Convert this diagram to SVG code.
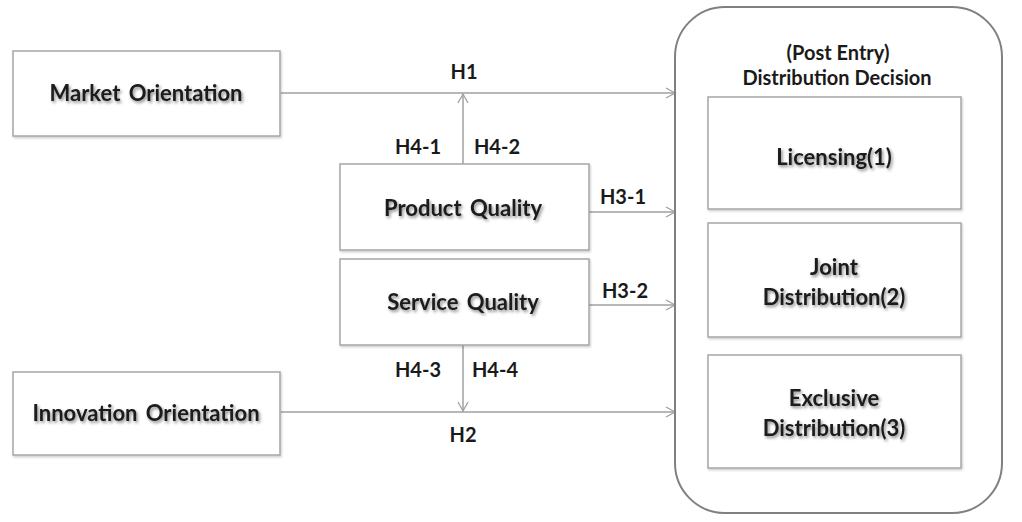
<svg xmlns="http://www.w3.org/2000/svg" width="1022" height="522" viewBox="0 0 1022 522">
<defs>
<style>
.box{fill:#fff;stroke:#a6a6a6;stroke-width:1.5;filter:url(#bs)}
.t{font-family:Lato,"Liberation Sans",sans-serif;font-weight:bold;fill:#1a1a1a;text-anchor:middle;filter:url(#ts)}
.big{font-size:22px;word-spacing:3px}
.lbl{font-size:20px;font-family:Lato,"Liberation Sans",sans-serif;font-weight:bold;fill:#1a1a1a;text-anchor:middle}
.c{stroke:#a0a0a0;stroke-width:1.5;fill:none;marker-end:url(#ah)}
</style>
<filter id="ts" x="-10%" y="-30%" width="130%" height="180%">
<feDropShadow dx="1.5" dy="2" stdDeviation="1.5" flood-color="#000" flood-opacity="0.45"/>
</filter>
<filter id="bs" x="-5%" y="-5%" width="115%" height="115%">
<feDropShadow dx="1" dy="1.5" stdDeviation="1" flood-color="#000" flood-opacity="0.2"/>
</filter>
<marker id="ah" markerWidth="12" markerHeight="12" refX="10" refY="6" orient="auto" markerUnits="userSpaceOnUse">
<path d="M1,1 L10,6 L1,11" fill="none" stroke="#a0a0a0" stroke-width="1.3"/>
</marker>
</defs>
<rect width="1022" height="522" fill="#fff"/>
<g id="connectors">
<line class="c" x1="281" y1="93" x2="675" y2="93"/>
<line class="c" x1="463" y1="164" x2="463" y2="94"/>
<line class="c" x1="589" y1="212" x2="675" y2="212"/>
<line class="c" x1="589" y1="305" x2="675" y2="305"/>
<line class="c" x1="281" y1="412" x2="675" y2="412"/>
<line class="c" x1="463" y1="345" x2="463" y2="411"/>
<text class="lbl" x="464" y="79">H1</text>
<text class="lbl" x="418" y="154">H4-1</text>
<text class="lbl" x="497" y="154">H4-2</text>
<text class="lbl" x="623" y="204">H3-1</text>
<text class="lbl" x="625" y="298">H3-2</text>
<text class="lbl" x="418" y="377">H4-3</text>
<text class="lbl" x="495" y="377">H4-4</text>
<text class="lbl" x="463" y="442">H2</text>
</g>
<g id="market">
<rect class="box" x="13" y="51" width="267" height="85"/>
<text class="t big" x="146" y="101">Market Orientation</text>
</g>
<g id="innovation">
<rect class="box" x="13" y="372" width="267" height="83"/>
<text class="t big" x="146" y="421">Innovation Orientation</text>
</g>
<g id="product">
<rect class="box" x="340" y="164" width="249" height="86"/>
<text class="t big" x="463" y="216">Product Quality</text>
</g>
<g id="service">
<rect class="box" x="340" y="259" width="249" height="86"/>
<text class="t big" x="463" y="310">Service Quality</text>
</g>
<g id="decision">
<rect x="675" y="7" width="327" height="506" rx="50" ry="50" fill="#fff" stroke="#808080" stroke-width="2"/>
<text class="lbl" x="838" y="60">(Post Entry)</text>
<text class="lbl" x="837" y="85">Distribution Decision</text>
</g>
<g id="licensing">
<rect class="box" x="708" y="97" width="253" height="112"/>
<text class="t big" x="834" y="165">Licensing(1)</text>
</g>
<g id="joint">
<rect class="box" x="708" y="223" width="253" height="114"/>
<text class="t big" x="834" y="275">Joint</text>
<text class="t big" x="834" y="305">Distribution(2)</text>
</g>
<g id="exclusive">
<rect class="box" x="708" y="355" width="253" height="113"/>
<text class="t big" x="834" y="406">Exclusive</text>
<text class="t big" x="834" y="436">Distribution(3)</text>
</g>
</svg>
